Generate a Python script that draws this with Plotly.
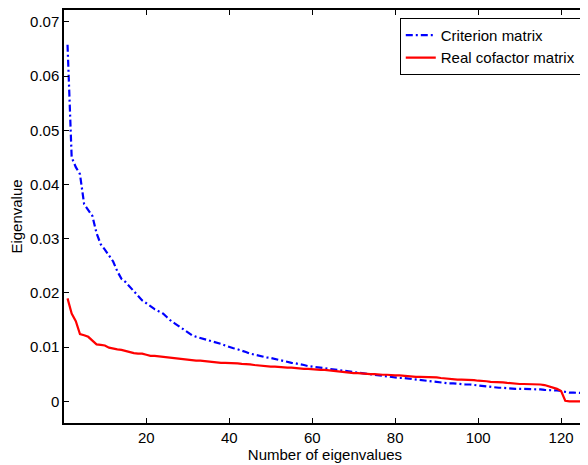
import plotly.graph_objects as go

x_index = list(range(1, 127))

criterion_matrix = [
    0.0658, 0.0450, 0.0432, 0.0419, 0.0364, 0.0352, 0.0342, 0.0310, 0.0290, 0.0280,
    0.0268, 0.0258, 0.0240, 0.0226, 0.0220, 0.0212, 0.0203, 0.0194, 0.0186, 0.0181,
    0.0175, 0.0170, 0.0166, 0.0162, 0.0155, 0.0148, 0.0143, 0.0138, 0.0133, 0.0128,
    0.0122, 0.0119, 0.0117, 0.0114, 0.0112, 0.0110, 0.0108, 0.0106, 0.0103, 0.0100,
    0.0098, 0.0096, 0.0094, 0.0091, 0.0088, 0.0086, 0.0085, 0.0083, 0.0081, 0.0080,
    0.0078, 0.0076, 0.0074, 0.0072, 0.0071, 0.0070, 0.0069, 0.0067, 0.0065, 0.0064,
    0.0063, 0.0062, 0.0061, 0.0060, 0.0059, 0.0058, 0.0056, 0.0055, 0.0054, 0.0053,
    0.0052, 0.0051, 0.0050, 0.0050, 0.0049, 0.0048, 0.0047, 0.0046, 0.0045, 0.0044,
    0.0043, 0.0043, 0.0042, 0.0042, 0.0041, 0.0040, 0.0039, 0.0038, 0.0037, 0.0036,
    0.0035, 0.0034, 0.0033, 0.0033, 0.0032, 0.0032, 0.0031, 0.0031, 0.0030, 0.0030,
    0.0029, 0.0028, 0.0027, 0.0026, 0.0025, 0.0025, 0.0024, 0.0024, 0.0023, 0.0023,
    0.0023, 0.0022, 0.0022, 0.0022, 0.0022, 0.0021, 0.0021, 0.0021, 0.0020, 0.0019,
    0.0017, 0.0016, 0.0016, 0.0016, 0.0015, 0.0015,
]

real_cofactor_matrix = [
    0.0190, 0.0162, 0.0148, 0.0124, 0.0122, 0.0119, 0.0112, 0.0105, 0.0104, 0.0103,
    0.0099, 0.0097, 0.0096, 0.0095, 0.0093, 0.0090, 0.0089, 0.0088, 0.0088, 0.0086,
    0.0084, 0.0084, 0.0083, 0.0082, 0.0081, 0.0080, 0.0080, 0.0079, 0.0078, 0.0077,
    0.0076, 0.0075, 0.0075, 0.0074, 0.0074, 0.0073, 0.0072, 0.0071, 0.0071, 0.0071,
    0.0070, 0.0070, 0.0069, 0.0069, 0.0068, 0.0067, 0.0066, 0.0066, 0.0065, 0.0064,
    0.0064, 0.0063, 0.0063, 0.0062, 0.0062, 0.0061, 0.0061, 0.0060, 0.0060, 0.0059,
    0.0059, 0.0058, 0.0058, 0.0057, 0.0056, 0.0055, 0.0055, 0.0054, 0.0053, 0.0052,
    0.0052, 0.0051, 0.0051, 0.0050, 0.0050, 0.0049, 0.0049, 0.0049, 0.0048, 0.0048,
    0.0048, 0.0047, 0.0047, 0.0046, 0.0045, 0.0045, 0.0045, 0.0045, 0.0044, 0.0044,
    0.0043, 0.0042, 0.0041, 0.0041, 0.0040, 0.0040, 0.0040, 0.0039, 0.0039, 0.0038,
    0.0038, 0.0037, 0.0036, 0.0036, 0.0036, 0.0035, 0.0034, 0.0033, 0.0033, 0.0032,
    0.0032, 0.0032, 0.0031, 0.0031, 0.0031, 0.0030, 0.0028, 0.0026, 0.0023, 0.0019,
    0.0001, 0.0000, 0.0000, 0.0000, 0.0000, 0.0000,
]

x_ticks = [20, 40, 60, 80, 100, 120]
y_ticks = [0, 0.01, 0.02, 0.03, 0.04, 0.05, 0.06, 0.07]
y_tick_labels = ["0", "0.01", "0.02", "0.03", "0.04", "0.05", "0.06", "0.07"]

FONT = "Arial, Liberation Sans, sans-serif"

fig = go.Figure()
fig.add_trace(go.Scatter(
    x=x_index, y=criterion_matrix, mode="lines", name="Criterion matrix",
    line=dict(color="#0000FF", width=2.2, dash="7px,3px,2px,3px"),
))
fig.add_trace(go.Scatter(
    x=x_index, y=real_cofactor_matrix, mode="lines", name="Real cofactor matrix",
    line=dict(color="#FF0000", width=2.2),
))

axis_common = dict(
    showline=True, linecolor="black", linewidth=1.5, mirror="ticks",
    ticks="inside", ticklen=5, tickwidth=1, tickcolor="black",
    showgrid=False, zeroline=False,
    tickfont=dict(family=FONT, size=15, color="black"),
)

# page body has an 8px margin, so the figure is drawn 8px in from the top-left
fig.update_layout(
    width=580, height=457,
    margin=dict(l=56, r=0, t=1, b=42),
    paper_bgcolor="white", plot_bgcolor="white",
    font=dict(family=FONT, size=15, color="black"),
    xaxis=dict(
        range=[0.15, 126.0], tickvals=x_ticks,
        title=dict(text="Number of eigenvalues", font=dict(family=FONT, size=15), standoff=4),
        **axis_common,
    ),
    yaxis=dict(
        range=[-0.0040, 0.0722], tickvals=y_ticks, ticktext=y_tick_labels,
        title=dict(text="Eigenvalue", font=dict(family=FONT, size=15), standoff=6),
        **axis_common,
    ),
    legend=dict(
        x=0.990, y=0.981, xanchor="right", yanchor="top",
        bgcolor="white", bordercolor="black", borderwidth=1,
        font=dict(family=FONT, size=15, color="black"),
        tracegroupgap=0, itemwidth=30,
    ),
    showlegend=True,
)

fig.write_html("out.html")
